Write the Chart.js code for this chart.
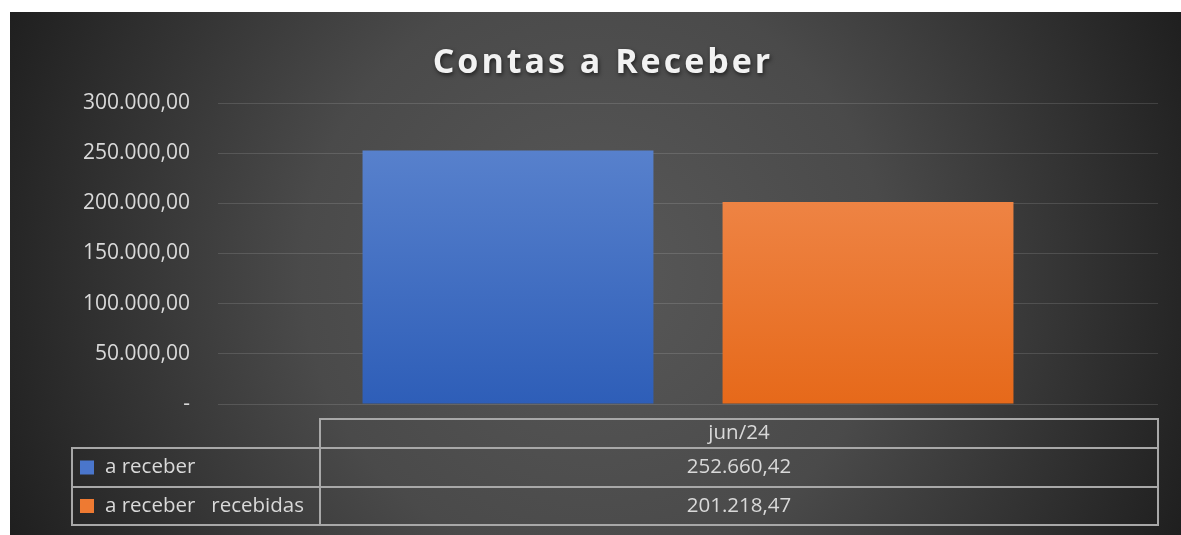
<!DOCTYPE html>
<html>
<head>
<meta charset="utf-8">
<script src="https://cdn.jsdelivr.net/npm/chart.js@4"></script>
<style>
  html, body { margin: 0; padding: 0; background: #fff; }
  #wrap { width: 1181px; height: 535px; position: relative; }
</style>
</head>
<body>
<div id="wrap"><canvas id="chart"></canvas></div>
<script>
const categories = ['jun/24'];
const seriesNames = ['a receber', 'a receber   recebidas'];
const aReceber = [252660.42];
const recebidas = [201218.47];
const yTicks = [0, 50000, 100000, 150000, 200000, 250000, 300000];

const FONT = '"Open Sans", Lato, sans-serif';
const TEXT = '#d9d9d9';

// 300000 -> "300.000,00", 0 -> "-"
function fmt(v) {
    if (v === 0) return '-';
    const parts = v.toFixed(2).split('.');
    const int = parts[0].replace(/\B(?=(\d{3})+(?!\d))/g, '.');
    return int + ',' + parts[1];
}

function barGradient(top, bottom) {
    return ctx => {
        const area = ctx.chart.chartArea;
        if (!area) return top;
        const g = ctx.chart.ctx.createLinearGradient(0, area.top, 0, area.bottom);
        g.addColorStop(0, top);
        g.addColorStop(1, bottom);
        return g;
    };
}

const background = {
    id: 'background',
    beforeDraw(chart) {
        const c = chart.ctx;
        const g = c.createRadialGradient(595, 273, 0, 595, 273, 650);
        g.addColorStop(0, '#585858');
        g.addColorStop(0.45, '#4a4a4a');
        g.addColorStop(1, '#1e1e1e');
        c.save();
        c.fillStyle = g;
        c.fillRect(10, 12, chart.width - 10, chart.height - 12);
        c.restore();
    },
    afterDraw(chart) {
        const c = chart.ctx;
        c.save();
        c.font = 'bold 34px ' + FONT;
        c.letterSpacing = '3px';
        c.textAlign = 'center';
        c.textBaseline = 'alphabetic';
        c.fillStyle = '#f2f2f2';
        c.shadowColor = 'rgba(0,0,0,0.6)';
        c.shadowBlur = 4;
        c.shadowOffsetX = 1;
        c.shadowOffsetY = 2;
        c.fillText('Contas a Receber', 603, 73);
        c.restore();
    }
};

// data table under the plot, laid out from the x scale
const dataTable = {
    id: 'dataTable',
    afterDraw(chart) {
        const c = chart.ctx;
        const right = chart.chartArea.right;
        const colLeft = 320, labelLeft = 72;
        const rows = [419, 448, 487, 525];
        const colors = ['#4a76cc', '#ee7a32'];
        const sets = [aReceber, recebidas];
        c.save();
        c.strokeStyle = '#a8a8a8';
        c.lineWidth = 2;
        c.strokeRect(colLeft, rows[0], right - colLeft, rows[1] - rows[0]);
        c.strokeRect(labelLeft, rows[1], right - labelLeft, rows[3] - rows[1]);
        c.beginPath();
        c.moveTo(labelLeft, rows[2]); c.lineTo(right, rows[2]);
        c.moveTo(colLeft, rows[1]); c.lineTo(colLeft, rows[3]);
        c.stroke();

        c.font = '20.5px ' + FONT;
        c.fillStyle = TEXT;
        c.textBaseline = 'middle';
        c.textAlign = 'center';
        const mid = (colLeft + right) / 2;
        c.fillText(categories[0], mid, (rows[0] + rows[1]) / 2);
        for (let i = 0; i < 2; i++) {
            const y = (rows[i + 1] + rows[i + 2]) / 2;
            c.textAlign = 'center';
            c.fillStyle = TEXT;
            c.fillText(fmt(sets[i][0]), mid, y);
            c.fillStyle = colors[i];
            c.fillRect(80, y - 7, 14, 14);
            c.textAlign = 'left';
            c.fillStyle = TEXT;
            c.fillText(seriesNames[i], 105, y);
        }
        c.restore();
    }
};

new Chart(document.getElementById('chart'), {
    type: 'bar',
    data: {
        labels: categories,
        datasets: [
            { label: seriesNames[0], data: aReceber, backgroundColor: barGradient('#5f87d0', '#2e5eb8') },
            { label: seriesNames[1], data: recebidas, backgroundColor: barGradient('#f29058', '#e6691a') }
        ]
    },
    options: {
        responsive: true,
        maintainAspectRatio: false,
        animation: false,
        categoryPercentage: 0.766,
        barPercentage: 0.808,
        layout: { padding: { top: 103, right: 23, bottom: 131, left: 0 } },
        plugins: { legend: { display: false }, title: { display: false }, tooltip: { enabled: false } },
        scales: {
            x: { display: false },
            y: {
                min: 0,
                max: 300000,
                afterBuildTicks: s => { s.ticks = yTicks.map(v => ({ value: v })); },
                afterFit: s => { s.width = 218; },
                border: { display: false },
                grid: { color: 'rgba(255,255,255,0.13)', lineWidth: 1, drawTicks: false },
                ticks: { padding: 28, color: TEXT, font: { family: FONT, size: 21 }, callback: v => fmt(v) }
            }
        }
    },
    plugins: [background, dataTable]
});
</script>
</body>
</html>
